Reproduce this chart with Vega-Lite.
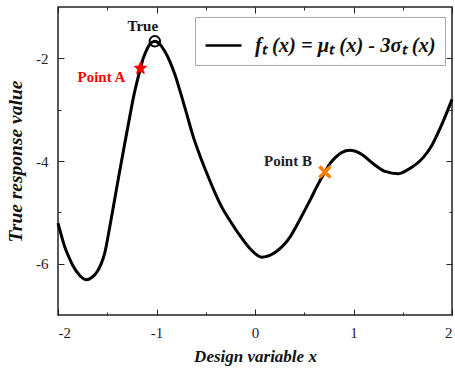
{
  "$schema": "https://vega.github.io/schema/vega-lite/v6.json",
  "width": 394,
  "height": 308,
  "autosize": {"type": "none"},
  "padding": {"left": 58, "top": 7, "right": 3, "bottom": 54},
  "background": "white",
  "config": {
    "view": {"stroke": "#222", "strokeWidth": 1.5},
    "font": "Liberation Serif",
    "axis": {
      "domain": false,
      "ticks": false,
      "labelFont": "Liberation Serif",
      "labelFontSize": 15,
      "labelColor": "#222",
      "titleFont": "Liberation Serif",
      "titleFontSize": 17,
      "titleFontStyle": "italic",
      "titleFontWeight": "bold",
      "titleColor": "#111",
      "gridColor": "#222",
      "gridOpacity": 1,
      "gridWidth": 1
    }
  },
  "datasets": {
    "curve": [
      {"x": -2.0, "y": -5.21}, {"x": -1.966, "y": -5.45}, {"x": -1.932, "y": -5.67},
      {"x": -1.89, "y": -5.87}, {"x": -1.848, "y": -6.04}, {"x": -1.779, "y": -6.23},
      {"x": -1.711, "y": -6.314}, {"x": -1.658, "y": -6.27}, {"x": -1.62, "y": -6.2},
      {"x": -1.594, "y": -6.13}, {"x": -1.561, "y": -6.0}, {"x": -1.525, "y": -5.79},
      {"x": -1.475, "y": -5.29}, {"x": -1.424, "y": -4.74}, {"x": -1.373, "y": -4.19},
      {"x": -1.322, "y": -3.657}, {"x": -1.271, "y": -3.131}, {"x": -1.241, "y": -2.825},
      {"x": -1.2, "y": -2.475}, {"x": -1.163, "y": -2.195}, {"x": -1.134, "y": -1.995},
      {"x": -1.102, "y": -1.844}, {"x": -1.068, "y": -1.727}, {"x": -1.017, "y": -1.669},
      {"x": -0.966, "y": -1.727}, {"x": -0.916, "y": -1.864}, {"x": -0.865, "y": -2.058},
      {"x": -0.814, "y": -2.312}, {"x": -0.763, "y": -2.624}, {"x": -0.695, "y": -3.072},
      {"x": -0.628, "y": -3.52}, {"x": -0.56, "y": -3.891}, {"x": -0.476, "y": -4.3},
      {"x": -0.408, "y": -4.612}, {"x": -0.336, "y": -4.904}, {"x": -0.255, "y": -5.158},
      {"x": -0.154, "y": -5.45}, {"x": -0.052, "y": -5.704}, {"x": 0.067, "y": -5.873},
      {"x": 0.202, "y": -5.782}, {"x": 0.355, "y": -5.483}, {"x": 0.456, "y": -5.138},
      {"x": 0.558, "y": -4.768}, {"x": 0.629, "y": -4.495}, {"x": 0.71, "y": -4.216},
      {"x": 0.761, "y": -4.053}, {"x": 0.812, "y": -3.94}, {"x": 0.883, "y": -3.832},
      {"x": 0.964, "y": -3.793}, {"x": 1.066, "y": -3.852}, {"x": 1.201, "y": -4.053},
      {"x": 1.32, "y": -4.203}, {"x": 1.455, "y": -4.248}, {"x": 1.574, "y": -4.144},
      {"x": 1.709, "y": -3.93}, {"x": 1.795, "y": -3.696}, {"x": 1.879, "y": -3.365},
      {"x": 1.94, "y": -3.092}, {"x": 2.0, "y": -2.799}
    ],
    "points": [
      {"x": -1.017, "y": -1.669, "label": "True"},
      {"x": -1.163, "y": -2.195, "label": "Point A"},
      {"x": 0.71, "y": -4.216, "label": "Point B"}
    ]
  },
  "encoding": {
    "x": {"field": "x", "type": "quantitative", "scale": {"domain": [-2, 2], "nice": false, "zero": false},
      "axis": {"orient": "bottom", "values": [-2, -1.5, -1, -0.5, 0, 0.5, 1, 1.5, 2],
        "labelExpr": "datum.value % 1 == 0 ? '' + datum.value : ''", "labelPadding": 10,
        "grid": true,
        "gridDash": {"condition": {"test": "datum.value % 1 == 0", "value": [6, 296, 6]}, "value": [3, 302, 3]},
        "title": "Design variable  x", "titlePadding": 8}},
    "y": {"field": "y", "type": "quantitative", "scale": {"domain": [-7, -1], "nice": false, "zero": false},
      "axis": {"orient": "left", "values": [-6, -5, -4, -3, -2],
        "labelExpr": "datum.value % 2 == 0 ? '' + datum.value : ''", "labelPadding": 10,
        "grid": true,
        "gridDash": {"condition": {"test": "datum.value % 2 == 0", "value": [6, 382, 6]}, "value": [3, 388, 3]},
        "title": "True response value", "titleFontSize": 19.5, "titlePadding": 10}}
  },
  "layer": [
    {
      "data": {"name": "curve"},
      "mark": {"type": "line", "strokeWidth": 3, "interpolate": "monotone"},
      "encoding": {
        "color": {"datum": "fₜ (x) = μₜ (x) - 3σₜ (x)", "type": "nominal",
          "scale": {"range": ["black"]},
          "legend": {"title": null, "orient": "none", "legendX": 137, "legendY": 10,
            "strokeColor": "#aaa", "fillColor": "white", "padding": 9,
            "symbolType": "stroke", "symbolSize": 1296, "symbolStrokeWidth": 2.5,
            "labelFont": "Liberation Serif", "labelFontStyle": "italic", "labelFontWeight": "bold",
            "labelFontSize": 20.5, "labelColor": "#111", "labelOffset": 12, "labelLimit": 400}}
      }
    },
    {
      "data": {"name": "points"},
      "transform": [{"filter": "datum.label == 'True'"}],
      "mark": {"type": "point", "shape": "circle", "filled": false, "stroke": "black", "strokeWidth": 2, "size": 110, "opacity": 1}
    },
    {
      "data": {"name": "points"},
      "transform": [{"filter": "datum.label == 'True'"}],
      "mark": {"type": "point", "shape": "circle", "filled": true, "fill": "black", "size": 8, "opacity": 1}
    },
    {
      "data": {"name": "points"},
      "transform": [{"filter": "datum.label == 'True'"}],
      "mark": {"type": "text", "font": "Liberation Serif", "fontWeight": "bold", "fontSize": 15, "dx": -12, "dy": -15, "color": "#111"},
      "encoding": {"text": {"field": "label"}}
    },
    {
      "data": {"name": "points"},
      "transform": [{"filter": "datum.label == 'Point A'"}],
      "mark": {"type": "point", "shape": "M0,-1L0.264,-0.364L0.951,-0.309L0.428,0.139L0.588,0.809L0,0.45L-0.588,0.809L-0.428,0.139L-0.951,-0.309L-0.264,-0.364Z", "filled": true, "fill": "#ff0000", "stroke": "#ff0000", "strokeWidth": 0.5, "size": 190, "opacity": 1}
    },
    {
      "data": {"name": "points"},
      "transform": [{"filter": "datum.label == 'Point A'"}],
      "mark": {"type": "text", "font": "Liberation Serif", "fontWeight": "bold", "fontSize": 15, "align": "right", "dx": -15, "dy": 9, "color": "#ff0000"},
      "encoding": {"text": {"field": "label"}}
    },
    {
      "data": {"name": "points"},
      "transform": [{"filter": "datum.label == 'Point B'"}],
      "mark": {"type": "point", "shape": "M-1,-1L1,1M-1,1L1,-1", "filled": false, "stroke": "#ff8000", "strokeWidth": 3.5, "size": 120, "opacity": 1}
    },
    {
      "data": {"name": "points"},
      "transform": [{"filter": "datum.label == 'Point B'"}],
      "mark": {"type": "text", "font": "Liberation Serif", "fontWeight": "bold", "fontSize": 15, "align": "right", "dx": -13, "dy": -11, "color": "#222"},
      "encoding": {"text": {"field": "label"}}
    }
  ]
}
